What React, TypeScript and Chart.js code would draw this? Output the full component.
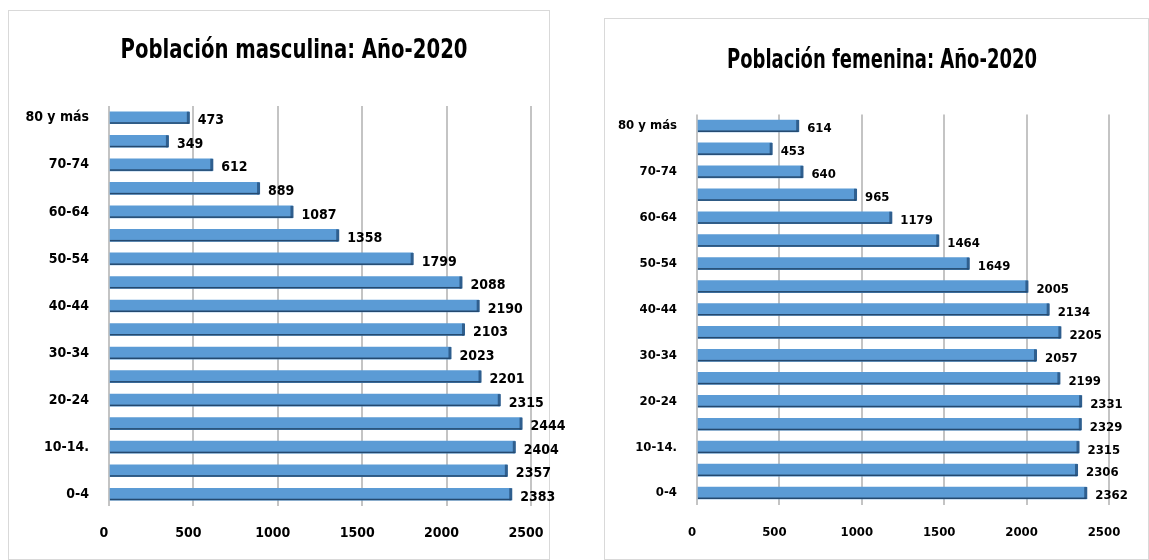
import React, { useEffect, useRef } from "react";
import { Chart, registerables } from "chart.js";

Chart.register(...registerables);

const ageGroups = ["0-4", "5-9", "10-14.", "15-19", "20-24", "25-29", "30-34", "35-39", "40-44", "45-49", "50-54", "55-59", "60-64", "65-69", "70-74", "75-79", "80 y más"];
const maleValues = [2383, 2357, 2404, 2444, 2315, 2201, 2023, 2103, 2190, 2088, 1799, 1358, 1087, 889, 612, 349, 473];
const femaleValues = [2362, 2306, 2315, 2329, 2331, 2199, 2057, 2205, 2134, 2005, 1649, 1464, 1179, 965, 640, 453, 614];
const xTickValues = [0, 500, 1000, 1500, 2000, 2500];
const maleTitle = "Población masculina: Año-2020";
const femaleTitle = "Población femenina: Año-2020";

const FONT = "'DejaVu Sans Condensed', 'Liberation Sans Narrow', sans-serif";

type Panel = {
  title: string;
  values: number[];
  left: number;
  top: number;
  width: number;
  height: number;
  canvasW: number;
  plotLeft: number;
  plotRight: number;
  plotTop: number;
  plotBottom: number;
  titleX: number;
  titleY: number;
  titleW: number;
  titleSize: number;
  labelSize: number;
  tickPad: number;
  yPad: number;
};

const panels: Panel[] = [
  {
    title: maleTitle, values: maleValues,
    left: 8, top: 10, width: 542, height: 550, canvasW: 590,
    plotLeft: 101, plotRight: 523, plotTop: 96, plotBottom: 496,
    titleX: 286, titleY: 48, titleW: 347, titleSize: 26, labelSize: 14, tickPad: 19, yPad: 20,
  },
  {
    title: femaleTitle, values: femaleValues,
    left: 604, top: 18, width: 545, height: 542, canvasW: 545,
    plotLeft: 93, plotRight: 505, plotTop: 96.5, plotBottom: 486.5,
    titleX: 278, titleY: 50, titleW: 310, titleSize: 26, labelSize: 13, tickPad: 20, yPad: 20,
  },
];

function PyramidChart({ p }: { p: Panel }) {
  const ref = useRef<HTMLCanvasElement | null>(null);
  useEffect(() => {
    if (!ref.current) return;
    const titlePlugin = {
      id: "customTitle",
      afterDraw(chart: any) {
        const ctx = chart.ctx;
        ctx.save();
        ctx.font = `bold ${p.titleSize}px ${FONT}`;
        ctx.fillStyle = "#000";
        ctx.textAlign = "center";
        ctx.textBaseline = "alphabetic";
        const w = ctx.measureText(p.title).width;
        const sx = Math.min(1, p.titleW / w);
        ctx.translate(p.titleX, p.titleY);
        ctx.scale(sx, 1);
        ctx.fillText(p.title, 0, 0);
        ctx.restore();
      },
    };
    const valuePlugin = {
      id: "valueLabels",
      afterDatasetsDraw(chart: any) {
        const ctx = chart.ctx;
        const meta = chart.getDatasetMeta(0);
        ctx.save();
        ctx.font = `bold ${p.labelSize}px ${FONT}`;
        ctx.textAlign = "left";
        ctx.textBaseline = "middle";
        meta.data.forEach((bar: any, i: number) => {
          const h = 12;
          ctx.fillStyle = "#2F5F8F";
          ctx.fillRect(bar.x - 2, bar.y - h / 2, 3, h);
          ctx.fillStyle = "#24496F";
          ctx.fillRect(bar.base, bar.y + h / 2 - 1.5, bar.x - bar.base, 1.5);
          ctx.fillStyle = "#000";
          ctx.fillText(String(p.values[i]), bar.x + 9, bar.y + 3);
        });
        ctx.restore();
      },
    };
    const chart = new Chart(ref.current, {
      type: "bar",
      data: {
        labels: ageGroups,
        datasets: [
          {
            data: p.values,
            backgroundColor: "#5B9BD5",
            borderWidth: 0,
            barThickness: 12,
          },
        ],
      },
      options: {
        indexAxis: "y",
        responsive: false,
        animation: false,
        layout: {
          padding: { top: p.plotTop, left: 0, right: p.canvasW - p.plotRight, bottom: 0 },
        },
        plugins: {
          legend: { display: false },
          title: { display: false },
          tooltip: { enabled: false },
        },
        scales: {
          x: {
            type: "linear",
            min: 0,
            max: 2500,
            afterBuildTicks(scale: any) {
              scale.ticks = xTickValues.map((v) => ({ value: v }));
            },
            afterFit(scale: any) {
              scale.height = p.height - p.plotBottom;
              scale.paddingLeft = 0;
              scale.paddingRight = 0;
            },
            grid: { color: "#C4C4C4", lineWidth: 2, drawTicks: false },
            border: { display: false },
            ticks: {
              padding: p.tickPad,
              labelOffset: -5,
              color: "#000",
              font: { family: FONT, size: p.labelSize, weight: "bold" },
              callback: (v: any) => String(v),
            },
          },
          y: {
            reverse: true,
            afterFit(scale: any) {
              scale.width = p.plotLeft;
              scale.paddingTop = 0;
              scale.paddingBottom = 0;
            },
            grid: { display: false, drawTicks: false },
            border: { display: false },
            ticks: {
              padding: p.yPad,
              autoSkip: false,
              color: "#000",
              font: { family: FONT, size: p.labelSize, weight: "bold" },
              callback: (_v: any, i: number) => (i % 2 === 0 ? ageGroups[i] : ""),
            },
          },
        },
      },
      plugins: [titlePlugin, valuePlugin],
    } as any);
    return () => chart.destroy();
  }, [p]);
  return (
    <div style={{ position: "absolute", left: p.left, top: p.top, width: p.canvasW, height: p.height }}>
      <div
        style={{
          position: "absolute",
          left: 0,
          top: 0,
          width: p.width,
          height: p.height,
          border: "1px solid #D9D9D9",
          boxSizing: "border-box",
          background: "#fff",
        }}
      />
      <canvas ref={ref} width={p.canvasW} height={p.height} style={{ position: "absolute", left: 0, top: 0 }} />
    </div>
  );
}

export default function App() {
  return (
    <div style={{ position: "absolute", left: 0, top: 0, width: 1149, height: 560, overflow: "hidden", background: "#fff" }}>
      {panels.map((p, i) => (
        <PyramidChart key={i} p={p} />
      ))}
    </div>
  );
}
